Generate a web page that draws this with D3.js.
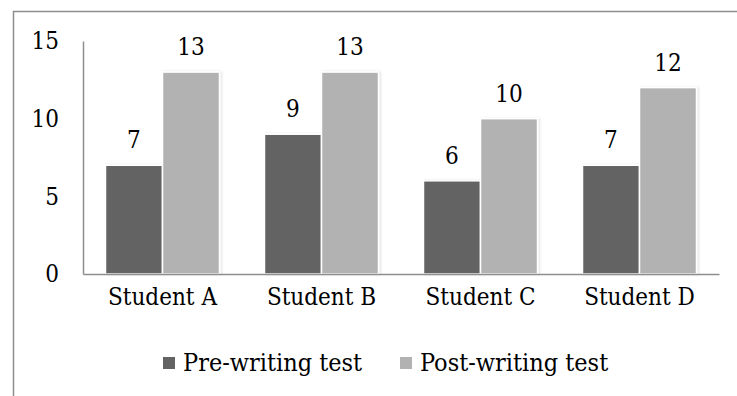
<!DOCTYPE html>
<html>
<head>
<meta charset="utf-8">
<script src="https://cdn.jsdelivr.net/npm/d3@7"></script>
<style>
  html, body { margin: 0; padding: 0; background: #fff; }
  svg { display: block; }
  text { font-family: "DejaVu Serif Condensed", "DejaVu Serif", serif; font-stretch: condensed; fill: #000; }
</style>
</head>
<body>
<svg id="chart" width="737" height="396"></svg>
<script>
// Test scores per student
const students = ["Student A", "Student B", "Student C", "Student D"];
const seriesNames = ["Pre-writing test", "Post-writing test"];
const preScores = [7, 9, 6, 7];
const postScores = [13, 13, 10, 12];
const yTicks = [0, 5, 10, 15];
const seriesColors = ["#636363", "#b2b2b2"];

const svg = d3.select("#chart");
const fontSize = 24;
const legendFontSize = 25;
const fontFamily = '"DejaVu Serif Condensed", "DejaVu Serif", serif';

// Outer frame
svg.append("rect")
  .attr("x", 13.5).attr("y", 11.5)
  .attr("width", 760).attr("height", 420)
  .attr("fill", "none").attr("stroke", "#8e8e8e").attr("stroke-width", 1.5);

// Soft shadow for bars
const defs = svg.append("defs");
const f = defs.append("filter").attr("id", "barShadow")
  .attr("x", "-10%").attr("y", "-10%").attr("width", "130%").attr("height", "120%");
f.append("feDropShadow").attr("dx", 1.5).attr("dy", 0).attr("stdDeviation", 1)
  .attr("flood-color", "#000").attr("flood-opacity", 0.12);

const x0 = d3.scaleBand().domain(students).range([83, 719])
  .paddingInner(0.283).paddingOuter(0.1415);
const x1 = d3.scaleBand().domain(seriesNames).range([0, x0.bandwidth()]).padding(0);
const y = d3.scaleLinear().domain([0, 15]).range([274, 41]);

const rows = students.map((s, i) => ({
  student: s,
  values: [
    { series: seriesNames[0], value: preScores[i] },
    { series: seriesNames[1], value: postScores[i] }
  ]
}));

const groups = svg.append("g").selectAll("g").data(rows).join("g")
  .attr("transform", d => `translate(${x0(d.student)},0)`);

groups.selectAll("rect").data(d => d.values).join("rect")
  .attr("x", d => x1(d.series))
  .attr("y", d => y(d.value))
  .attr("width", x1.bandwidth())
  .attr("height", d => y(0) - y(d.value))
  .attr("fill", (d, i) => seriesColors[i])
  .attr("stroke", "#fff").attr("stroke-width", 1.5)
  .attr("filter", "url(#barShadow)");

groups.selectAll("text.val").data(d => d.values).join("text")
  .attr("class", "val")
  .attr("x", d => x1(d.series) + x1.bandwidth() / 2)
  .attr("y", d => y(d.value) - 17)
  .attr("text-anchor", "middle")
  .attr("font-size", fontSize)
  .text(d => d.value);

// Y axis
const yAxis = svg.append("g").attr("transform", "translate(83,0)")
  .call(d3.axisLeft(y).tickValues(yTicks).tickSize(0).tickPadding(24));
yAxis.select(".domain").attr("stroke", "#8e8e8e").attr("stroke-width", 1.5);
yAxis.selectAll("text").attr("font-size", fontSize)
  .attr("font-family", fontFamily).attr("fill", "#000");

// X axis
const xAxis = svg.append("g").attr("transform", "translate(0,274)")
  .call(d3.axisBottom(x0).tickSize(0).tickPadding(14));
xAxis.select(".domain").attr("stroke", "#8e8e8e").attr("stroke-width", 1.5);
xAxis.selectAll("text").attr("font-size", fontSize)
  .attr("font-family", fontFamily).attr("fill", "#000");

// Legend
const legendItems = [
  { name: seriesNames[0], color: seriesColors[0], x: 163 },
  { name: seriesNames[1], color: seriesColors[1], x: 400 }
];
const lg = svg.append("g").selectAll("g").data(legendItems).join("g")
  .attr("transform", d => `translate(${d.x},0)`);
lg.append("rect").attr("x", 0).attr("y", 357).attr("width", 12).attr("height", 12)
  .attr("fill", d => d.color);
lg.append("text").attr("x", 20).attr("y", 371)
  .attr("font-size", legendFontSize).text(d => d.name);
</script>
</body>
</html>
